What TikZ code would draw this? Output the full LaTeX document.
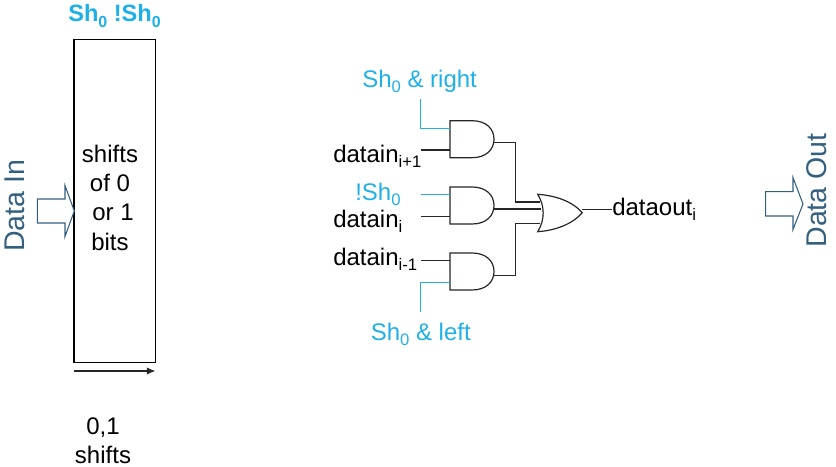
\documentclass[tikz,border=0pt]{standalone}
\usepackage{fontspec}
\usetikzlibrary{arrows.meta}
\setmainfont{Liberation Sans}
\definecolor{skyb}{HTML}{1FB0E8}
\definecolor{slateb}{HTML}{34607F}
\newcommand{\sbs}[1]{\raisebox{-0.22em}{\fontsize{12.5}{12.5}\selectfont #1}}
\newcommand{\sbsb}[1]{\raisebox{-0.22em}{\fontsize{12}{12}\selectfont\bfseries #1}}
\tikzset{
  wire/.style={draw=black!85,line width=0.9pt},
  ctl/.style={draw=skyb,line width=0.8pt},
  gate/.style={draw=black!85,line width=0.9pt,fill=white},
  lbl/.style={inner sep=0pt,anchor=base west,font=\fontsize{18}{18}\selectfont,text=black},
  blbl/.style={lbl,text=skyb},
  cen/.style={lbl,anchor=base},
  big/.style={inner sep=0pt,font=\fontsize{21.4}{21.4}\selectfont,text=slateb,rotate=90},
  blockarrow/.style={draw=slateb,line width=0.8pt,fill=white},
}
\newcommand{\andgate}[2]{% top-left name, y top
  \draw[gate] (450,#2) -- (472,#2) .. controls (486,#2) and (494,{#2+8}) .. (494,{#2+18.5}) .. controls (494,{#2+29}) and (486,{#2+37}) .. (472,{#2+37}) -- (450,{#2+37}) -- cycle;
}
\begin{document}
\begin{tikzpicture}[x=0.75pt,y=-0.75pt]
\useasboundingbox (0,0) rectangle (836,467);
% shifter box
\node[draw=black,line width=0.8pt,minimum width=60.9pt,minimum height=242.2pt,inner sep=0pt,outer sep=0pt,anchor=north west] (box) at (74,39.8) {};
\coordinate (sl) at (74.3,371);
\coordinate (sr) at (155.5,371);
\draw[draw=black!85,line width=0.9pt,-{Latex[length=6.5pt,width=5.5pt]}] (sl) -- (sr);
\node[lbl,text=skyb,font=\fontsize{17.7}{17.7}\selectfont\bfseries] (title) at (68,22) {Sh\sbsb{0} !Sh\sbsb{0}};
\node[cen] (t1) at (110,162) {shifts};
\node[cen] (t2) at (110,191) {of 0};
\node[cen] (t3) at (113,220) {or 1};
\node[cen] (t4) at (110,250) {bits};
\node[cen] (t5) at (103,434) {0,1};
\node[cen] (t6) at (103,463) {shifts};
% block arrows and side labels
\draw[blockarrow] (37.3,199) -- (65,199) -- (65,185.5) -- (74.3,211) -- (65,236.5) -- (65,223) -- (37.3,223) -- cycle;
\draw[blockarrow] (765.7,191.7) -- (793,191.7) -- (793,177.5) -- (803,204) -- (793,229.5) -- (793,216) -- (765.7,216) -- cycle;
\node[big] (din) at (15,206) {Data In};
\node[big] (dout) at (817,190.5) {Data Out};
% gates
\andgate{a}{120.7}
\andgate{b}{187}
\andgate{c}{253}
\draw[gate] (537.7,194.3) .. controls (555,195.5) and (572,201) .. (582.3,212.7) .. controls (572,224.5) and (555,230.5) .. (537.7,231.7) .. controls (545,220) and (545,206) .. (537.7,194.3) -- cycle;
% pins
\coordinate (a1) at (450,128.3); \coordinate (a2) at (450,150);
\coordinate (b1) at (450,194.3); \coordinate (b2) at (450,216.3);
\coordinate (c1) at (450,260.7); \coordinate (c2) at (450,282.3);
\coordinate (ao) at (494,142.3); \coordinate (bo) at (494,209); \coordinate (co) at (494,275.3);
\coordinate (o1) at (539.5,202); \coordinate (o2) at (541,209); \coordinate (o3) at (539.5,223.7);
\coordinate (oo) at (582.3,209.7);
\coordinate (ctop) at (420.5,99); \coordinate (cbot) at (420.5,311.7);
\coordinate (s2) at (420.5,194.3); \coordinate (d1) at (420.5,150); \coordinate (d2) at (420.5,216.3); \coordinate (d3) at (420.5,260.7);
\coordinate (dout1) at (611.7,209.7);
% wires
\draw[ctl] (ctop) |- (a1);
\draw[ctl] (s2) -- (b1);
\draw[ctl] (cbot) |- (c2);
\draw[wire] (d1) -- (a2);
\draw[wire] (d2) -- (b2);
\draw[wire] (d3) -- (c1);
\draw[wire] (ao) -| (515.7,202) -- (o1);
\draw[wire] (bo) -- (o2);
\draw[wire] (co) -| (515.7,223.7) -- (o3);
\draw[wire] (oo) -- (dout1);
% labels
\node[blbl] (l1) at (362,87.7) {Sh\sbs{0} \& right};
\node[lbl] (l2) at (333,162) {datain\sbs{i+1}};
\node[blbl] (l3) at (355,200) {!Sh\sbs{0}};
\node[lbl] (l4) at (333,227) {datain\sbs{i}};
\node[lbl] (l5) at (333,265) {datain\sbs{i-1}};
\node[blbl] (l6) at (370.5,340) {Sh\sbs{0} \& left};
\node[lbl] (l7) at (612,215.5) {dataout\sbs{i}};
\end{tikzpicture}
\end{document}
